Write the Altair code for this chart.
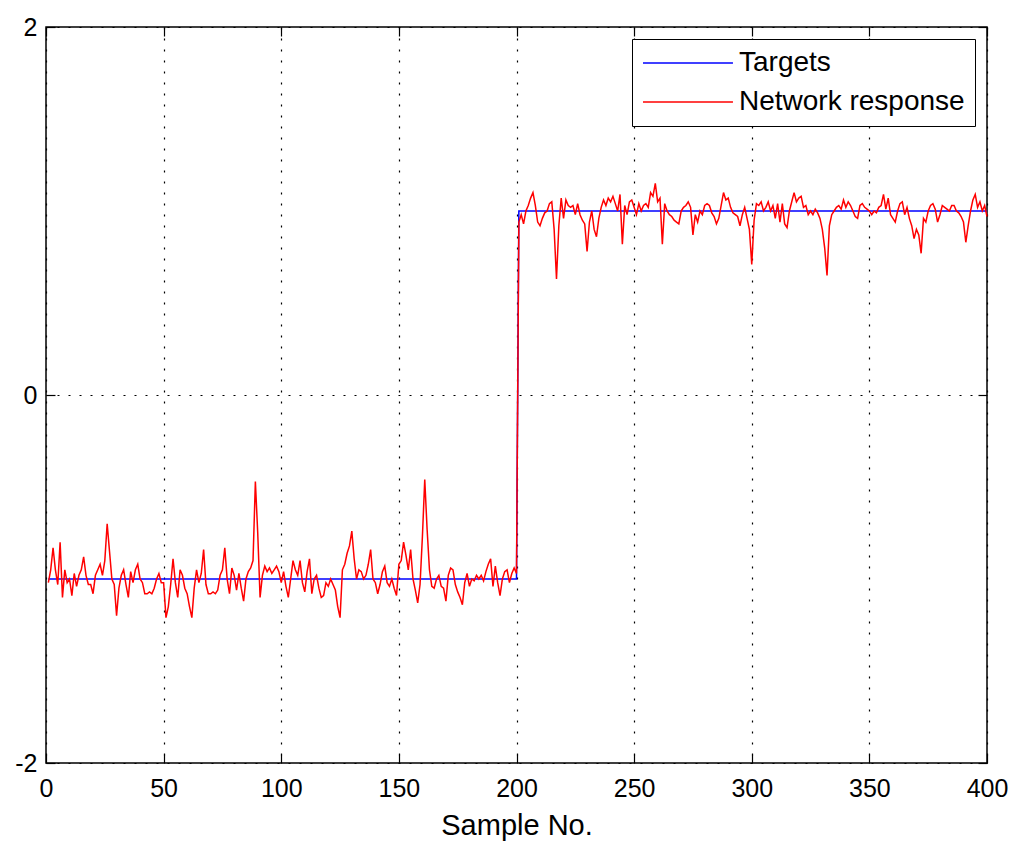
import altair as alt
import pandas as pd

# Network output for samples 1-400, in blocks of 50
resp_001_050 = [-1.02, -0.95, -0.83, -0.95, -1.03, -0.80, -1.10, -0.95, -1.02, -1.00,
                -1.09, -0.97, -1.04, -0.98, -0.95, -0.88, -0.98, -1.03, -1.03, -1.08,
                -0.98, -0.95, -0.92, -0.98, -0.90, -0.70, -0.85, -1.00, -1.03, -1.20,
                -1.05, -0.98, -0.95, -1.03, -1.10, -0.96, -1.02, -0.95, -0.92, -1.00,
                -1.02, -1.08, -1.08, -1.07, -1.08, -1.05, -1.00, -0.97, -1.02, -1.02]
resp_051_100 = [-1.21, -1.15, -1.03, -0.89, -1.02, -1.10, -0.95, -0.98, -1.05, -1.08,
                -1.15, -1.21, -1.05, -0.95, -1.02, -0.97, -0.84, -1.03, -1.08, -1.08,
                -1.07, -1.08, -1.06, -0.98, -0.95, -0.83, -1.00, -1.08, -0.94, -0.98,
                -1.06, -0.97, -1.05, -1.12, -1.00, -0.96, -0.94, -0.90, -0.47, -0.75,
                -1.10, -0.98, -0.93, -0.96, -0.94, -0.97, -0.95, -0.93, -0.96, -1.02]
resp_101_150 = [-0.96, -1.04, -1.10, -1.00, -0.90, -0.95, -0.98, -0.90, -1.02, -1.07,
                -0.96, -0.89, -1.08, -1.00, -0.98, -1.05, -1.10, -1.09, -1.02, -1.04,
                -1.00, -1.03, -1.06, -1.15, -1.21, -0.95, -0.92, -0.86, -0.82, -0.74,
                -0.89, -1.00, -0.95, -0.96, -1.00, -0.98, -0.92, -0.84, -1.00, -1.02,
                -1.08, -1.03, -0.96, -0.93, -1.02, -1.04, -1.00, -1.05, -1.09, -0.92]
resp_151_200 = [-0.90, -0.80, -0.87, -0.95, -0.84, -1.00, -1.06, -1.13, -1.03, -0.77,
                -0.46, -0.73, -0.95, -1.04, -1.05, -1.00, -0.98, -1.04, -1.05, -1.12,
                -0.98, -0.94, -0.95, -1.03, -1.07, -1.10, -1.14, -1.02, -0.97, -1.04,
                -1.00, -1.01, -0.98, -1.00, -0.98, -1.01, -0.96, -0.92, -0.89, -1.04,
                -0.93, -1.02, -1.09, -1.00, -0.96, -0.95, -1.02, -0.97, -0.94, -0.97]
resp_201_250 = [0.94, 0.98, 0.93, 1.00, 1.03, 1.07, 1.10, 1.03, 0.94, 0.92,
                0.96, 0.99, 1.00, 1.04, 1.05, 0.90, 0.63, 0.92, 1.07, 0.96,
                1.06, 1.03, 1.02, 1.03, 0.98, 1.04, 0.98, 0.95, 0.93, 0.78,
                0.94, 1.00, 0.90, 0.86, 0.96, 1.02, 1.06, 1.03, 1.07, 1.05,
                1.08, 1.04, 1.00, 1.09, 0.82, 1.03, 0.98, 1.05, 1.06, 1.02]
resp_251_300 = [0.98, 1.04, 1.00, 1.03, 1.04, 1.02, 1.10, 1.08, 1.15, 1.05,
                1.07, 0.82, 1.04, 1.00, 0.98, 0.97, 0.95, 0.94, 0.93, 1.00,
                1.02, 1.03, 1.05, 1.02, 0.87, 0.98, 0.94, 1.00, 0.98, 1.03,
                1.04, 1.03, 0.99, 0.97, 0.93, 0.96, 1.03, 1.10, 1.06, 1.07,
                1.02, 0.99, 0.98, 0.97, 0.92, 0.98, 1.02, 0.96, 0.90, 0.71]
resp_301_350 = [0.95, 1.04, 1.03, 1.05, 1.00, 1.02, 1.05, 1.00, 1.03, 0.96,
                1.04, 0.94, 1.04, 0.93, 0.91, 1.00, 1.05, 1.10, 1.05, 1.07,
                1.08, 1.02, 1.03, 0.98, 1.00, 0.98, 1.01, 0.99, 0.96, 0.90,
                0.80, 0.65, 0.92, 0.98, 1.00, 1.02, 1.03, 1.01, 1.06, 1.02,
                1.05, 1.03, 1.00, 0.97, 0.96, 1.03, 1.04, 1.02, 1.01, 1.00]
resp_351_400 = [0.98, 1.00, 0.99, 1.02, 1.03, 1.09, 1.01, 1.07, 0.98, 0.96,
                0.94, 1.00, 1.04, 1.05, 0.98, 1.02, 0.96, 0.92, 0.85, 0.90,
                0.87, 0.77, 0.96, 0.94, 1.00, 1.03, 1.04, 1.01, 0.94, 0.98,
                1.03, 1.02, 1.01, 1.00, 1.03, 1.03, 1.00, 0.99, 0.97, 0.94,
                0.83, 0.92, 1.00, 1.06, 1.09, 1.02, 1.05, 1.00, 1.03, 0.97]

response = (resp_001_050 + resp_051_100 + resp_101_150 + resp_151_200
            + resp_201_250 + resp_251_300 + resp_301_350 + resp_351_400)

# Step target: class -1 for the first 200 samples, +1 for the rest
targets = [-1] * 200 + [1] * 200

x_ticks = [0, 50, 100, 150, 200, 250, 300, 350, 400]
y_ticks = [-2, 0, 2]
series_names = ["Targets", "Network response"]
series_colors = ["#0000ff", "#ff0000"]

samples = list(range(1, len(response) + 1))
df = pd.DataFrame({
    "sample": samples + samples,
    "value": targets + response,
    "series": [series_names[0]] * len(targets) + [series_names[1]] * len(response),
})

W, H = 941, 736
FONT = "Liberation Sans"

x_scale = alt.Scale(domain=[0, 400], nice=False, zero=False)
y_scale = alt.Scale(domain=[-2, 2], nice=False, zero=False)

# A long legend line drawn with a small symbol size, so the rows stay compact:
# the path spans -1..5.92 units, i.e. about 90 px at size 676 (13 px per unit).
legend_line = "M-1,0H5.92"

color = alt.Color(
    "series:N",
    scale=alt.Scale(domain=series_names, range=series_colors),
    legend=alt.Legend(
        title=None, orient="top-right", offset=12,
        fillColor="white", strokeColor="black",
        padding=10, rowPadding=11,
        symbolType=legend_line, symbolSize=676, symbolStrokeWidth=1.5,
        labelFont=FONT, labelFontSize=28, labelColor="black",
        labelOffset=69, labelLimit=500,
    ),
)

# plain hyphen for negative tick labels
hyphen_labels = "replace(datum.label, '\u2212', '-')"

x_main_axis = alt.Axis(
    orient="bottom", values=x_ticks, format="d", title="Sample No.",
    grid=True, ticks=False, tickSize=0, domain=False, labelFlush=False,
    labelPadding=13, titlePadding=10,
)
y_main_axis = alt.Axis(
    orient="left", values=y_ticks, format="d", title=None,
    grid=True, ticks=False, tickSize=0, domain=False, labelFlush=False,
    labelPadding=9, labelExpr=hyphen_labels,
)

base = alt.Chart(df)
target_data = base.transform_filter(alt.datum.series == series_names[0])
response_data = base.transform_filter(alt.datum.series == series_names[1])

targets_line = target_data.mark_line(strokeWidth=1.5).encode(
    x=alt.X("sample:Q", scale=x_scale, axis=x_main_axis),
    y=alt.Y("value:Q", scale=y_scale, axis=y_main_axis),
    color=color,
)
response_line = response_data.mark_line(strokeWidth=1.5).encode(
    x=alt.X("sample:Q", scale=x_scale, axis=None),
    y=alt.Y("value:Q", scale=y_scale, axis=None),
    color=color,
)


def inner_ticks(channel, orient, offset, values):
    """Invisible layer whose only job is to carry an inward-pointing tick axis."""
    tick_axis = alt.Axis(
        orient=orient, offset=offset, values=values, labels=False, title=None,
        grid=False, domain=False, ticks=True, tickSize=9,
        tickColor="black", tickWidth=1.2,
    )
    if channel == "x":
        enc = dict(x=alt.X("sample:Q", scale=x_scale, axis=tick_axis),
                   y=alt.Y("value:Q", scale=y_scale, axis=None))
    else:
        enc = dict(x=alt.X("sample:Q", scale=x_scale, axis=None),
                   y=alt.Y("value:Q", scale=y_scale, axis=tick_axis))
    return target_data.mark_line(opacity=0).encode(**enc)


chart = alt.layer(
    targets_line,
    response_line,
    inner_ticks("x", "top", -H, x_ticks),
    inner_ticks("x", "bottom", -H, x_ticks),
    inner_ticks("y", "right", -W, y_ticks),
    inner_ticks("y", "left", -W, y_ticks),
).resolve_axis(
    x="independent", y="independent"
).properties(
    width=W, height=H,
    autosize=alt.AutoSizeParams(type="none"),
    padding={"left": 46, "top": 27, "right": 24, "bottom": 78},
    background="white",
).configure_view(
    stroke="black", strokeWidth=1.5,
).configure_axis(
    labelFont=FONT, labelFontSize=25, labelColor="black",
    titleFont=FONT, titleFontSize=29, titleFontWeight="normal", titleColor="black",
    gridColor="black", gridDash=[2, 9], gridWidth=1.2, gridOpacity=1,
)

chart.save("out.html", embed_options={"renderer": "svg", "actions": False})
